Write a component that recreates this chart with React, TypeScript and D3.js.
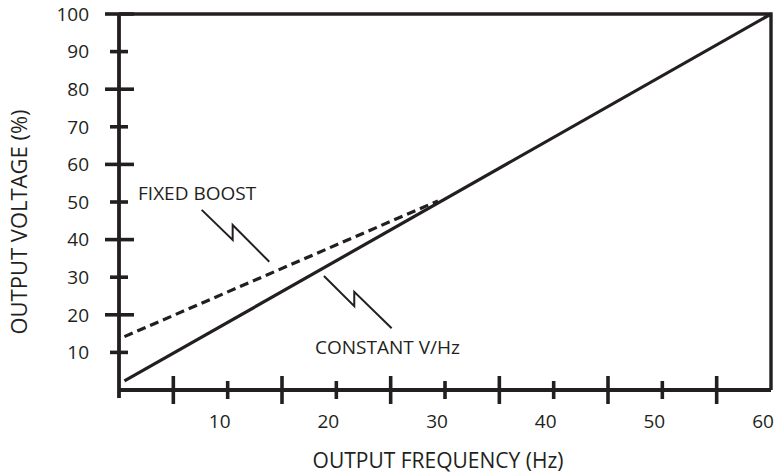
import * as d3 from 'd3';

// frequency (Hz), voltage (%)
const constantVHz: [number, number][] = [[0.5, 2.4], [60, 100]];
const fixedBoost: [number, number][] = [[0.5, 14.2], [29.35, 50.3]];

const xTickLabels = [10, 20, 30, 40, 50, 60];
const xMinorTicks = [10, 20, 30, 40, 50];
const xMajorTicks = [5, 15, 25, 35, 45, 55];
const yTickLabels = [10, 20, 30, 40, 50, 60, 70, 80, 90, 100];
const yMajorTicks = [20, 40, 60, 80, 100];
const yMinorTicks = [10, 30, 50, 70, 90];

// callouts: label position + zigzag leader, in data units
const fixedBoostLabel = { text: 'FIXED BOOST', at: [1.75, 50.6] as [number, number] };
const fixedBoostLeader: [number, number][] = [[7.61, 47.9], [10.46, 39.9], [10.46, 43.9], [13.83, 34.1]];
const constantLabel = { text: 'CONSTANT V/Hz', at: [18.04, 9.6] as [number, number] };
const constantLeader: [number, number][] = [[18.86, 30.3], [21.65, 22.3], [21.65, 26.1], [25.09, 16.4]];

const INK = '#231f20';
const FONT = '"Open Sans", "DejaVu Sans", sans-serif';

export default function App() {
  const W = 776;
  const H = 475;
  const x = d3.scaleLinear().domain([0, 60]).range([119, 771]);
  const y = d3.scaleLinear().domain([0, 100]).range([390, 14]);
  const line = d3.line<[number, number]>().x(d => x(d[0])).y(d => y(d[1]));

  return (
    <svg width={W} height={H} style={{ position: 'absolute', left: 0, top: 0, background: '#fff' }}>
      {/* frame: top and right */}
      <path d={`M${x(0)},${y(100)}H${x(60)}V${y(0)}`} fill="none" stroke={INK} strokeWidth={3.4} />
      {/* axes */}
      <line x1={x(0)} x2={x(0)} y1={y(100)} y2={y(0) + 8} stroke={INK} strokeWidth={3.8} />
      <line x1={x(0)} x2={x(60)} y1={y(0)} y2={y(0)} stroke={INK} strokeWidth={3.8} />

      {yMajorTicks.map(v => (
        <line key={'ym' + v} x1={x(0) - 14} x2={x(0) + 15} y1={y(v)} y2={y(v)} stroke={INK} strokeWidth={3.6} />
      ))}
      {yMinorTicks.map(v => (
        <line key={'yn' + v} x1={x(0) - 9} x2={x(0) + 9} y1={y(v)} y2={y(v)} stroke={INK} strokeWidth={3.6} />
      ))}
      {xMajorTicks.map(v => (
        <line key={'xm' + v} x1={x(v)} x2={x(v)} y1={y(0) - 14} y2={y(0) + 14} stroke={INK} strokeWidth={3.6} />
      ))}
      {xMinorTicks.map(v => (
        <line key={'xn' + v} x1={x(v)} x2={x(v)} y1={y(0) - 9} y2={y(0) + 9} stroke={INK} strokeWidth={3.6} />
      ))}

      {yTickLabels.map(v => (
        <text key={'yl' + v} x={89} y={y(v)} dy="0.36em" textAnchor="end" fontFamily={FONT} fontSize={19} fill={INK}>
          {v}
        </text>
      ))}
      {xTickLabels.map(v => (
        <text key={'xl' + v} x={x(v) - 8} y={428} textAnchor="middle" fontFamily={FONT} fontSize={19} fill={INK}>
          {v}
        </text>
      ))}

      {/* series */}
      <path d={line(constantVHz) ?? ''} fill="none" stroke={INK} strokeWidth={3.2} />
      <path d={line(fixedBoost) ?? ''} fill="none" stroke={INK} strokeWidth={3.2} strokeDasharray="9,5" />

      {/* callouts */}
      <path d={line(fixedBoostLeader) ?? ''} fill="none" stroke={INK} strokeWidth={2} />
      <path d={line(constantLeader) ?? ''} fill="none" stroke={INK} strokeWidth={2} />
      <text x={x(fixedBoostLabel.at[0])} y={y(fixedBoostLabel.at[1])} fontFamily={FONT} fontSize={19} fill={INK}>
        {fixedBoostLabel.text}
      </text>
      <text x={x(constantLabel.at[0])} y={y(constantLabel.at[1])} fontFamily={FONT} fontSize={19} fill={INK}>
        {constantLabel.text}
      </text>

      {/* axis titles */}
      <text x={438} y={468} textAnchor="middle" fontFamily={FONT} fontSize={21} fill={INK}>
        OUTPUT FREQUENCY (Hz)
      </text>
      <text transform="translate(27,222) rotate(-90)" textAnchor="middle" fontFamily={FONT} fontSize={22} fill={INK}>
        OUTPUT VOLTAGE (%)
      </text>
    </svg>
  );
}
